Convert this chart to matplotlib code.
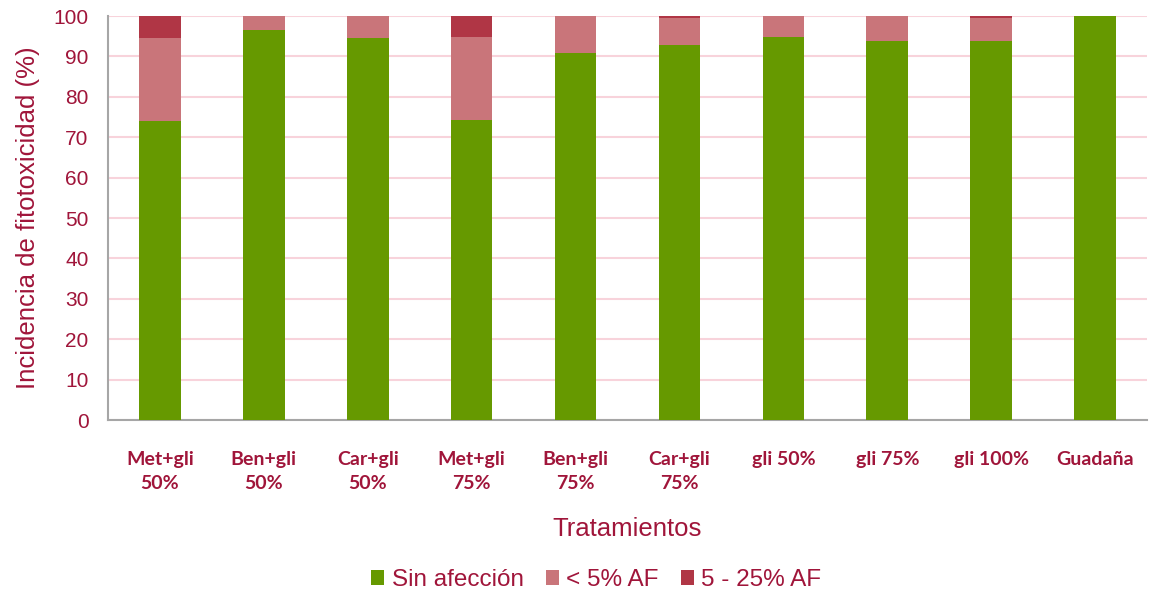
import matplotlib.pyplot as plt
import numpy as np

tratamientos = ["Met+gli\n50%", "Ben+gli\n50%", "Car+gli\n50%", "Met+gli\n75%", "Ben+gli\n75%",
                "Car+gli\n75%", "gli 50%", "gli 75%", "gli 100%", "Guadaña"]
sin_afeccion = [74.0, 96.5, 94.6, 74.2, 90.8, 92.7, 94.8, 93.8, 93.8, 100.0]
menor_5 = [20.5, 3.5, 5.4, 20.6, 9.2, 6.8, 5.2, 6.2, 5.6, 0.0]
af_5_25 = [5.5, 0.0, 0.0, 5.2, 0.0, 0.5, 0.0, 0.0, 0.6, 0.0]
yticks = list(range(0, 101, 10))

plt.rcParams["font.family"] = ["Liberation Sans", "DejaVu Sans"]

txt = "#A0153A"
c_green = "#669900"
c_pink = "#C9757A"
c_dark = "#B03645"

fig = plt.figure(figsize=(11.6, 5.94), dpi=100)
ax = fig.add_axes([108/1160, 1 - 420/594, 1039/1160, 404/594])

x = np.arange(len(tratamientos))
w = 0.4
s1 = np.array(sin_afeccion)
s2 = np.array(menor_5)
s3 = np.array(af_5_25)
ax.bar(x, s1, w, color=c_green, label="Sin afección", zorder=3)
ax.bar(x, s2, w, bottom=s1, color=c_pink, label="< 5% AF", zorder=3)
ax.bar(x, s3, w, bottom=s1 + s2, color=c_dark, label="5 - 25% AF", zorder=3)

ax.set_xlim(-0.5, len(tratamientos) - 0.5)
ax.set_ylim(0, 100)
ax.set_yticks(yticks)
ax.yaxis.grid(True, color="#F8D3DB", linewidth=1.5, zorder=0)
ax.set_axisbelow(True)
for sp in ["top", "right"]:
    ax.spines[sp].set_visible(False)
for sp in ["left", "bottom"]:
    ax.spines[sp].set_color("#A6A6A6")
    ax.spines[sp].set_linewidth(1.5)
ax.tick_params(axis="both", length=0)
ax.tick_params(axis="y", labelsize=15, labelcolor=txt, pad=14)

ax.set_xticks(x)
ax.set_xticklabels(tratamientos, fontsize=14, fontweight="bold", color=txt,
                   family=["Lato", "DejaVu Sans"], linespacing=1.55)
ax.tick_params(axis="x", pad=22)

ax.set_ylabel("Incidencia de fitotoxicidad (%)", fontsize=18.5, color=txt, labelpad=10)
ax.set_xlabel("Tratamientos", fontsize=18.5, color=txt, labelpad=18)

leg = fig.legend(loc="center", bbox_to_anchor=(0.514, 1 - 580/594), ncol=3, frameon=False,
                 fontsize=17.5, handlelength=0.55, handleheight=0.55, handletextpad=0.3,
                 columnspacing=0.9)
for t in leg.get_texts():
    t.set_color(txt)

fig.savefig("out.png", dpi=100)
